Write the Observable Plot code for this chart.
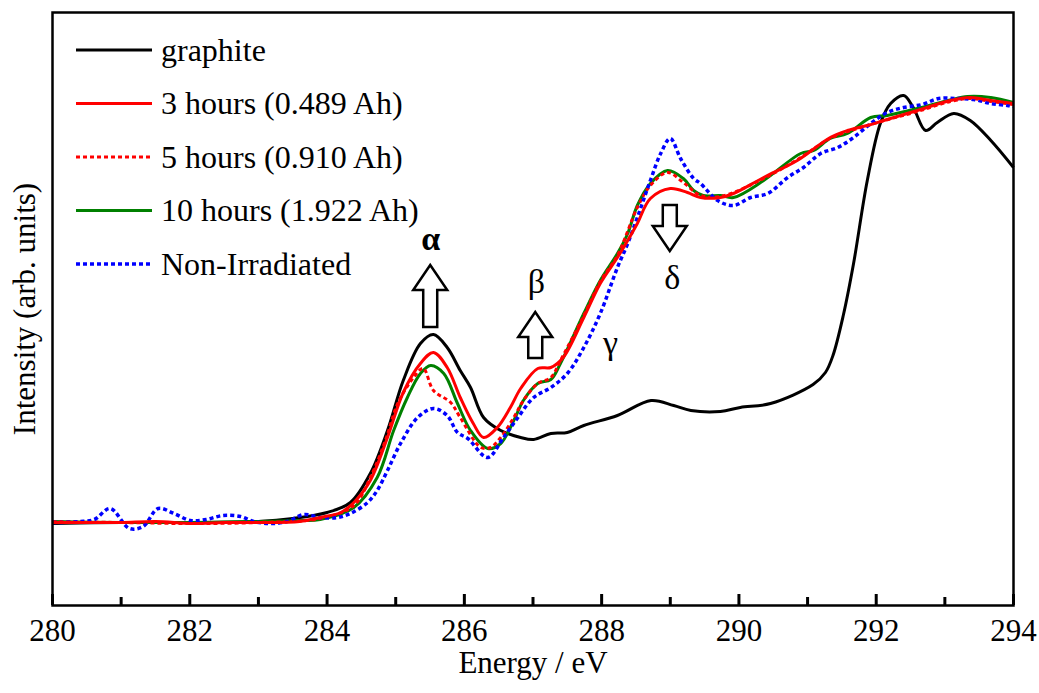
<!DOCTYPE html>
<html><head><meta charset="utf-8">
<script src="https://cdn.jsdelivr.net/npm/d3@7"></script>
<script src="https://cdn.jsdelivr.net/npm/@observablehq/plot@0.6"></script>
<style>body{margin:0;background:#fff}#chart svg{display:block}</style>
</head><body><div id="chart"></div>
<script>
// Energy (eV) and intensity (arb. units)
const graphiteE = [280, 281, 282, 283, 283.5, 284, 284.34, 284.63, 284.88, 285.11, 285.36, 285.55, 285.75, 285.94, 286.09, 286.28, 286.53, 286.82, 287.01, 287.26, 287.5, 287.74, 288.23, 288.72, 289.05, 289.3, 289.73, 290.02, 290.46, 291.08, 291.26, 291.37, 291.52, 291.67, 291.87, 292.06, 292.21, 292.4, 292.54, 292.72, 292.89, 293.13, 293.37, 293.67, 294];
const graphiteI = [0.82, 0.83, 0.83, 0.84, 0.87, 0.93, 1.03, 1.32, 1.75, 2.25, 2.62, 2.71, 2.58, 2.35, 2.18, 1.88, 1.75, 1.68, 1.66, 1.72, 1.73, 1.80, 1.90, 2.05, 2.00, 1.95, 1.94, 1.98, 2.02, 2.21, 2.33, 2.50, 2.90, 3.42, 4.25, 4.82, 5.02, 5.10, 4.98, 4.75, 4.83, 4.92, 4.85, 4.65, 4.38];

const h3E = [280, 280.5, 281, 281.5, 282.04, 282.5, 283, 283.6, 283.9, 284.2, 284.39, 284.63, 284.88, 285.11, 285.36, 285.55, 285.75, 285.94, 286.13, 286.28, 286.48, 286.67, 286.82, 287.07, 287.26, 287.44, 287.74, 287.98, 288.23, 288.38, 288.52, 288.71, 289.0, 289.25, 289.44, 289.73, 289.92, 290.36, 290.85, 291.33, 291.58, 291.87, 292.11, 292.6, 293.08, 293.37, 293.67, 294];
const h3I = [0.83, 0.83, 0.83, 0.84, 0.82, 0.83, 0.83, 0.84, 0.88, 0.93, 1.03, 1.25, 1.68, 2.13, 2.42, 2.53, 2.38, 2.08, 1.82, 1.68, 1.78, 1.98, 2.17, 2.37, 2.38, 2.48, 2.88, 3.22, 3.48, 3.65, 3.82, 4.07, 4.17, 4.13, 4.08, 4.08, 4.12, 4.28, 4.45, 4.68, 4.75, 4.80, 4.85, 4.95, 5.05, 5.08, 5.05, 5.02];

const h5E = [280, 281, 282, 283, 283.9, 284.39, 284.63, 284.85, 285.03, 285.26, 285.4, 285.55, 285.8, 285.94, 286.24, 286.38, 286.53, 286.72, 286.86, 287.07, 287.26, 287.4, 287.74, 287.98, 288.23, 288.52, 288.71, 288.96, 289.19, 289.44, 289.73, 290.36, 290.9, 291.33, 291.87, 292.6, 293.08, 293.37, 293.67, 294];
const h5I = [0.84, 0.83, 0.82, 0.83, 0.87, 1.00, 1.28, 1.65, 2.02, 2.28, 2.37, 2.15, 2.03, 1.88, 1.58, 1.58, 1.68, 1.88, 2.05, 2.22, 2.28, 2.45, 2.90, 3.24, 3.50, 3.98, 4.20, 4.33, 4.23, 4.10, 4.09, 4.27, 4.48, 4.67, 4.80, 4.94, 5.04, 5.07, 5.04, 5.01];

const h10E = [280, 281, 282, 283, 283.6, 283.9, 284.39, 284.73, 284.97, 285.17, 285.36, 285.51, 285.7, 285.9, 286.09, 286.34, 286.53, 286.72, 286.86, 287.07, 287.26, 287.4, 287.74, 287.98, 288.23, 288.38, 288.52, 288.71, 288.96, 289.19, 289.34, 289.48, 289.73, 289.92, 290.36, 290.9, 291.09, 291.33, 291.58, 291.92, 292.16, 292.6, 293.33, 293.67, 294];
const h10I = [0.84, 0.83, 0.83, 0.84, 0.85, 0.86, 0.98, 1.28, 1.75, 2.08, 2.32, 2.40, 2.32, 2.02, 1.75, 1.57, 1.62, 1.85, 2.05, 2.22, 2.26, 2.42, 2.92, 3.25, 3.52, 3.72, 4.00, 4.22, 4.35, 4.27, 4.15, 4.10, 4.10, 4.08, 4.25, 4.52, 4.55, 4.67, 4.72, 4.88, 4.90, 4.97, 5.09, 5.08, 5.03];

const nonE = [280, 280.15, 280.39, 280.61, 280.84, 281.12, 281.32, 281.54, 281.77, 282.01, 282.24, 282.48, 282.74, 282.93, 283.18, 283.42, 283.66, 283.9, 284.15, 284.34, 284.59, 284.73, 284.88, 285.07, 285.32, 285.55, 285.75, 285.9, 286.05, 286.34, 286.57, 286.77, 287.01, 287.26, 287.5, 287.74, 287.98, 288.23, 288.38, 288.52, 288.71, 288.86, 289.0, 289.15, 289.34, 289.44, 289.69, 289.92, 290.17, 290.42, 290.71, 290.94, 291.19, 291.44, 291.67, 291.92, 292.16, 292.4, 292.67, 292.91, 293.18, 293.42, 293.67, 293.91, 294];
const nonI = [0.83, 0.83, 0.84, 0.86, 0.97, 0.77, 0.79, 0.97, 0.92, 0.85, 0.86, 0.90, 0.89, 0.84, 0.82, 0.84, 0.91, 0.88, 0.88, 0.92, 1.03, 1.15, 1.35, 1.62, 1.88, 1.97, 1.90, 1.73, 1.67, 1.48, 1.68, 1.87, 2.08, 2.18, 2.32, 2.58, 2.92, 3.38, 3.62, 3.88, 4.25, 4.52, 4.67, 4.47, 4.27, 4.22, 4.05, 4.00, 4.08, 4.12, 4.28, 4.38, 4.52, 4.58, 4.68, 4.82, 4.93, 4.98, 5.01, 5.07, 5.07, 5.06, 5.02, 5.00, 4.99];

const seriesNames = ["graphite", "3 hours (0.489 Ah)", "5 hours (0.910 Ah)", "10 hours (1.922 Ah)", "Non-Irradiated"];
const majorTicks = [280, 282, 284, 286, 288, 290, 292, 294];
const minorTicks = [281, 283, 285, 287, 289, 291, 293];
const yDomain = [0, 5.93];

// annotation arrows: energy, tail intensity, tip intensity
const arrowE = [285.51, 287.04, 289.00];
const arrowTail = [2.78, 2.47, 4.00];
const arrowTip = [3.40, 2.93, 3.54];
// greek labels (α drawn bold in the reference)
const boldLabel = ["α"];
const boldE = [285.51];
const boldI = [3.66];
const labelText = ["β", "γ", "δ"];
const labelE = [287.05, 288.13, 289.03];
const labelI = [3.23, 2.62, 3.27];

const styles = [
  {color: "#000000", width: 3, dash: null},
  {color: "#ff0000", width: 3, dash: null},
  {color: "#ff0000", width: 3, dash: "4 3"},
  {color: "#008000", width: 3, dash: null},
  {color: "#0000ff", width: 3.5, dash: "4 3"}
];
const xs = [graphiteE, h3E, h5E, h10E, nonE];
const ys = [graphiteI, h3I, h5I, h10I, nonI];
const series = seriesNames.map((name, k) => ({name, ...styles[k], rows: xs[k].map((e, j) => ({e, i: ys[k][j]}))}));
const drawOrder = [0, 3, 2, 4, 1];

const font = '"Liberation Serif","Times New Roman",serif';

function arrowsMark(index, scales) {
  const g = d3.create("svg:g");
  arrowE.forEach((e, k) => {
    const x = scales.x(e), y0 = scales.y(arrowTail[k]), y1 = scales.y(arrowTip[k]);
    const dir = Math.sign(y1 - y0);
    const hl = 25, hw = 17, sw = 7;
    const yb = y1 - dir * hl;
    const pts = [[x - sw, y0], [x - sw, yb], [x - hw, yb], [x, y1], [x + hw, yb], [x + sw, yb], [x + sw, y0]];
    g.append("path").attr("d", "M" + pts.map(p => p.join(",")).join("L") + "Z")
      .attr("fill", "white").attr("stroke", "black").attr("stroke-width", 2.5).attr("stroke-linejoin", "miter");
  });
  return g.node();
}

function legendMark(index, scales, values, dimensions) {
  const {marginLeft, marginTop} = dimensions;
  const g = d3.create("svg:g");
  series.forEach((s, k) => {
    const y = marginTop + 38 + k * 53.5;
    g.append("line").attr("x1", marginLeft + 24).attr("x2", marginLeft + 100).attr("y1", y).attr("y2", y)
      .attr("stroke", s.color).attr("stroke-width", s.width).attr("stroke-dasharray", s.dash)
      .attr("stroke-linecap", "butt");
    g.append("text").attr("x", marginLeft + 109).attr("y", y).attr("dy", "0.34em")
      .attr("text-anchor", "start")
      .attr("font-size", 32).attr("font-family", font).attr("fill", "black").text(s.name);
  });
  return g.node();
}

// inward tick length in y units (100 px per unit: 593 px over 5.93)
const unitPx = 100;

const chart = Plot.plot({
  width: 1039, height: 693,
  marginLeft: 52, marginRight: 26, marginTop: 12, marginBottom: 88,
  style: {fontFamily: font, fontSize: "31px", background: "white", color: "black", overflow: "visible"},
  x: {domain: [280, 294]},
  y: {domain: yDomain, axis: null},
  marks: [
    ...drawOrder.map(k => Plot.line(series[k].rows, {
      x: "e", y: "i", stroke: series[k].color, strokeWidth: series[k].width,
      strokeDasharray: series[k].dash, strokeLinecap: "butt", curve: "catmull-rom"
    })),
    Plot.axisX({ticks: majorTicks, tickSize: 0, tickPadding: 13, tickFormat: d => String(d), label: null, fontSize: 31}),
    Plot.frame({stroke: "black", strokeWidth: 2.5}),
    Plot.ruleX(majorTicks, {x: d => d, y1: yDomain[0], y2: yDomain[0] + 11 / unitPx, stroke: "black", strokeWidth: 3}),
    Plot.ruleX(minorTicks, {x: d => d, y1: yDomain[0], y2: yDomain[0] + 8 / unitPx, stroke: "black", strokeWidth: 3}),
    Plot.text(["Energy / eV"], {frameAnchor: "bottom", dy: 67, fontSize: 31}),
    Plot.text(["Intensity (arb. units)"], {frameAnchor: "left", textAnchor: "middle", rotate: -90, dx: -27, fontSize: 31}),
    arrowsMark,
    Plot.text(boldLabel, {x: boldE, y: boldI, text: d => d, fontSize: 34, fontWeight: "bold"}),
    Plot.text(labelText, {x: labelE, y: labelI, text: d => d, fontSize: 34}),
    legendMark
  ]
});
document.getElementById("chart").appendChild(chart);
</script>
</body></html>
